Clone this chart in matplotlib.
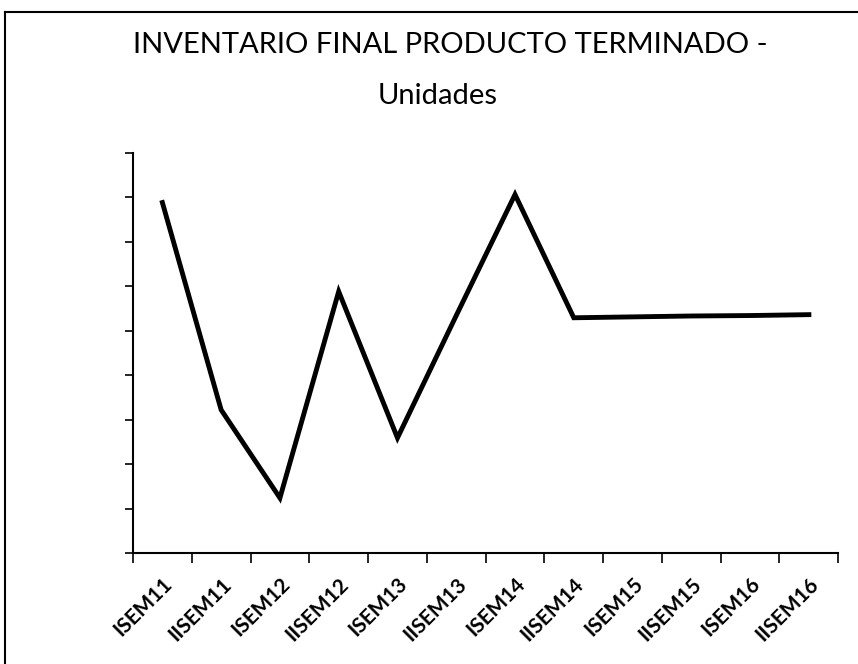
import matplotlib
matplotlib.use("Agg")
import matplotlib.pyplot as plt
from matplotlib.lines import Line2D

periodos = ["ISEM11", "IISEM11", "ISEM12", "IISEM12", "ISEM13", "IISEM13",
            "ISEM14", "IISEM14", "ISEM15", "IISEM15", "ISEM16", "IISEM16"]
inventario = [7.88, 3.22, 1.24, 5.88, 2.59, 5.34, 8.06, 5.29, 5.31, 5.33, 5.34, 5.36]

plt.rcParams['font.family'] = ['Lato', 'DejaVu Sans']

fig = plt.figure(figsize=(8.58, 6.64), dpi=100)
ax = fig.add_axes([0.155, 0.167, 0.822, 0.603])

x = list(range(len(periodos)))
ax.plot(x, inventario, color="black", lw=3.5, solid_joinstyle="miter")

ax.set_xlim(-0.5, len(periodos) - 0.5)
ax.set_ylim(0, 9)

# category labels at centers, tick marks on the boundaries
ax.set_xticks(x)
ax.set_xticklabels(periodos, rotation=45, ha="right", rotation_mode="anchor",
                   fontsize=15, fontweight="bold")
ax.tick_params(axis="x", which="major", length=0, pad=15)
ax.set_xticks([i - 0.5 for i in range(len(periodos) + 1)], minor=True)
ax.tick_params(axis="x", which="minor", length=7, width=1.2, direction="out")

ax.set_yticks(range(10))
ax.set_yticklabels([])
ax.tick_params(axis="y", length=6, width=1.2, direction="out")

for side in ["top", "right"]:
    ax.spines[side].set_visible(False)
for side in ["left", "bottom"]:
    ax.spines[side].set_linewidth(1.5)

fig.text(0.525, 0.932, "INVENTARIO FINAL PRODUCTO TERMINADO -", ha="center", va="center", fontsize=21)
fig.text(0.51, 0.855, "Unidades", ha="center", va="center", fontsize=21)

# outer chart border
fig.add_artist(Line2D([0.006, 0.006], [0.0, 0.982], transform=fig.transFigure, color="black", lw=1.5))
fig.add_artist(Line2D([0.006, 1.0], [0.982, 0.982], transform=fig.transFigure, color="black", lw=1.5))

fig.savefig("out.png", dpi=100)
